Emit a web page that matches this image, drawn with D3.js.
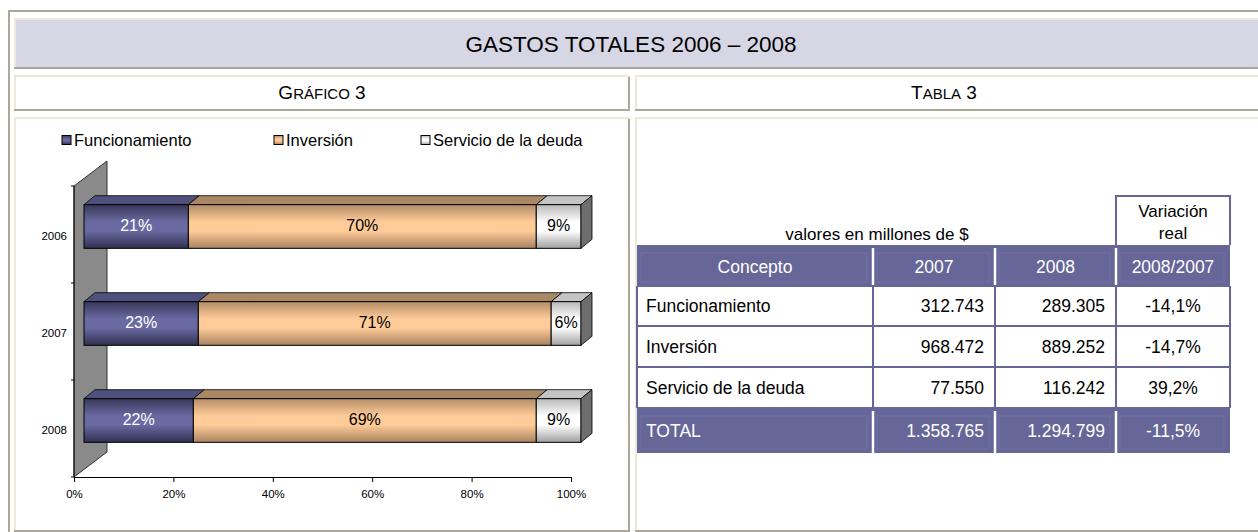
<!DOCTYPE html>
<html>
<head>
<meta charset="utf-8">
<script src="https://cdn.jsdelivr.net/npm/d3@7"></script>
<style>
  body { margin: 0; background: #fff; }
  svg { display: block; font-family: "Liberation Sans", Arial, sans-serif; }
</style>
</head>
<body>
<script>
// datos del grafico (porcentajes del gasto total)
var years = ["2006", "2007", "2008"];
var series = ["Funcionamiento", "Inversión", "Servicio de la deuda"];
var funcionamiento = [21, 23, 22];
var inversion = [70, 71, 69];
var servicio = [9, 6, 9];
var xTicks = [0, 20, 40, 60, 80, 100];

// datos de la tabla (millones de $)
var headers = ["Concepto", "2007", "2008", "2008/2007"];
var conceptos = ["Funcionamiento", "Inversión", "Servicio de la deuda"];
var valores2007 = [312743, 968472, 77550];
var valores2008 = [289305, 889252, 116242];
var variacion = [-14.1, -14.7, 39.2];
var totales = [1358765, 1294799];
var variacionTotal = -11.5;

var W = 1258, H = 532;
var beige = "#ece9d8", gris = "#aca899", morado = "#666699";

var es = d3.formatLocale({decimal: ",", thousands: ".", grouping: [3], currency: ["$", ""], minus: "-"});
var fmtMiles = es.format(",d");
var fmtPct = function(v) { return es.format(".1f")(v) + "%"; };

var svg = d3.select("body").append("svg")
  .attr("width", W)
  .attr("height", H);

var defs = svg.append("defs");
// degradados tipo Excel: oscuro arriba y abajo, claro en el centro
function grad(id, dark, light, dark2) {
  var g = defs.append("linearGradient").attr("id", id)
    .attr("x1", 0).attr("y1", 0).attr("x2", 0).attr("y2", 1);
  g.append("stop").attr("offset", "0%").attr("stop-color", dark);
  g.append("stop").attr("offset", "40%").attr("stop-color", light);
  g.append("stop").attr("offset", "60%").attr("stop-color", light);
  g.append("stop").attr("offset", "100%").attr("stop-color", dark2);
}
grad("g0", "#38385a", "#6a6aa2", "#303050");
grad("g1", "#b48c66", "#ffcc99", "#a88260");
grad("g2", "#b8b8b8", "#ffffff", "#a0a0a0");
var fronts = ["url(#g0)", "url(#g1)", "url(#g2)"];
var tops = ["#50507c", "#a98866", "#c4c4c4"];
var labelColors = ["#ffffff", "#000000", "#000000"];

// ---- marco tipo tabla html ----
function cell(x0, y0, x1, y1, fill) {
  svg.append("rect").attr("x", x0).attr("y", y0).attr("width", x1 - x0).attr("height", y1 - y0).attr("fill", fill);
  svg.append("rect").attr("x", x0).attr("y", y0).attr("width", x1 - x0).attr("height", 2).attr("fill", beige);
  svg.append("rect").attr("x", x0).attr("y", y0).attr("width", 2).attr("height", y1 - y0).attr("fill", beige);
  svg.append("rect").attr("x", x0).attr("y", y1 - 2).attr("width", x1 - x0).attr("height", 2).attr("fill", gris);
  svg.append("rect").attr("x", x1 - 2).attr("y", y0 + 2).attr("width", 2).attr("height", y1 - y0 - 2).attr("fill", gris);
}
svg.append("rect").attr("x", 8).attr("y", 10).attr("width", 2).attr("height", H - 10).attr("fill", gris);
svg.append("rect").attr("x", 8).attr("y", 10).attr("width", W - 8).attr("height", 2).attr("fill", gris);
cell(14, 18, 1264, 69, "#d6d6e4");
cell(14, 75, 630, 111, "#fff");
cell(635, 75, 1264, 111, "#fff");
cell(14, 117, 630, 532, "#fff");
cell(635, 117, 1264, 532, "#fff");

svg.append("text").attr("x", 631).attr("y", 44).attr("dy", "0.35em").attr("text-anchor", "middle")
  .attr("font-size", 22.5).attr("fill", "#000").text("GASTOS TOTALES 2006 – 2008");

function smallCaps(cx, first, rest, last) {
  var t = svg.append("text").attr("x", cx).attr("y", 99).attr("text-anchor", "middle").attr("fill", "#000");
  t.append("tspan").attr("font-size", 19).text(first);
  t.append("tspan").attr("font-size", 15).text(rest);
  t.append("tspan").attr("font-size", 19).text(last);
}
smallCaps(322, "G", "RÁFICO", " 3");
smallCaps(944, "T", "ABLA", " 3");

// ---- grafico de barras 3D apiladas al 100% ----
var x = d3.scaleLinear().domain([0, 100]).range([74, 571]);
var y = d3.scaleBand().domain(years).range([186, 477]).paddingInner(0.55).paddingOuter(0.275);
var wall = {dx: 33, dy: -25};
var off = {dx: 10, dy: -8};
var bd = {dx: 11, dy: -9};

var rows = years.map(function(yr, i) {
  return {year: yr, s0: funcionamiento[i], s1: inversion[i], s2: servicio[i]};
});
var stack = d3.stack().keys(["s0", "s1", "s2"])(rows);

// pared lateral
var y0 = y.range()[0], y1 = y.range()[1];
svg.append("polygon")
  .attr("points", [[x(0), y0], [x(0) + wall.dx, y0 + wall.dy], [x(0) + wall.dx, y1 + wall.dy], [x(0), y1]].join(" "))
  .attr("fill", "#8a8a8a").attr("stroke", "#333").attr("stroke-width", 1);

// eje x
var xAxis = svg.append("g").attr("transform", "translate(0," + y1 + ")")
  .call(d3.axisBottom(x).tickValues(xTicks).tickFormat(function(d) { return d + "%"; }).tickSize(5).tickSizeOuter(0));
xAxis.select(".domain").attr("stroke", "#000");
xAxis.selectAll("text").attr("font-family", null).attr("font-size", 11.5).attr("dy", "1.15em").attr("fill", "#000");

// eje y: marcas en los limites de cada categoria
var bounds = d3.range(years.length + 1).map(function(i) { return y0 + i * y.step(); });
svg.append("line").attr("x1", x(0)).attr("x2", x(0)).attr("y1", y0).attr("y2", y1).attr("stroke", "#000");
svg.selectAll("line.ytick").data(bounds).enter().append("line").attr("class", "ytick")
  .attr("x1", x(0) - 3).attr("x2", x(0)).attr("y1", function(d) { return d; }).attr("y2", function(d) { return d; })
  .attr("stroke", "#000");
svg.selectAll("text.ylab").data(years).enter().append("text").attr("class", "ylab")
  .attr("x", 67).attr("y", function(d) { return y(d) + y.bandwidth() / 2 + 1; })
  .attr("dy", "0.35em").attr("text-anchor", "end").attr("font-size", 11.5).text(function(d) { return d; });

// barras
var bh = y.bandwidth();
stack.forEach(function(layer, si) {
  var g = svg.append("g");
  // cara superior
  g.selectAll("polygon").data(layer).enter().append("polygon")
    .attr("points", function(d) {
      var xa = x(d[0]) + off.dx, xb = x(d[1]) + off.dx, yy = y(d.data.year) + off.dy;
      return [[xa, yy], [xb, yy], [xb + bd.dx, yy + bd.dy], [xa + bd.dx, yy + bd.dy]].join(" ");
    })
    .attr("fill", tops[si]).attr("stroke", "#000").attr("stroke-width", 0.8);
  // cara frontal
  g.selectAll("rect").data(layer).enter().append("rect")
    .attr("x", function(d) { return x(d[0]) + off.dx; })
    .attr("y", function(d) { return y(d.data.year) + off.dy; })
    .attr("width", function(d) { return x(d[1]) - x(d[0]); })
    .attr("height", bh)
    .attr("fill", fronts[si]).attr("stroke", "#000").attr("stroke-width", 1);
  // cara lateral derecha (solo el ultimo segmento)
  if (si === stack.length - 1) {
    g.selectAll("polygon.side").data(layer).enter().append("polygon").attr("class", "side")
      .attr("points", function(d) {
        var xb = x(d[1]) + off.dx, yy = y(d.data.year) + off.dy;
        return [[xb, yy], [xb + bd.dx, yy + bd.dy], [xb + bd.dx, yy + bd.dy + bh], [xb, yy + bh]].join(" ");
      })
      .attr("fill", "#6e6e6e").attr("stroke", "#000").attr("stroke-width", 0.8);
  }
  g.selectAll("text").data(layer).enter().append("text")
    .attr("x", function(d) { return (x(d[0]) + x(d[1])) / 2 + off.dx; })
    .attr("y", function(d) { return y(d.data.year) + off.dy + bh / 2 - 1; })
    .attr("dy", "0.35em").attr("text-anchor", "middle").attr("font-size", 16)
    .attr("fill", labelColors[si])
    .text(function(d) { return (d[1] - d[0]) + "%"; });
});

// leyenda
var legX = [62, 274, 421];
var leg = svg.selectAll("g.leg").data(series).enter().append("g").attr("class", "leg")
  .attr("transform", function(d, i) { return "translate(" + legX[i] + ",140)"; });
leg.append("rect").attr("x", 0).attr("y", -4.5).attr("width", 9).attr("height", 9)
  .attr("fill", function(d, i) { return fronts[i]; }).attr("stroke", "#000");
leg.append("text").attr("x", 12).attr("dy", "0.35em").attr("font-size", 16.5).text(function(d) { return d; });

// ---- tabla ----
var colX = [637, 873, 995, 1116, 1230];
var rowY = [245, 286, 326, 367, 408, 453];
var t = svg.append("g");

t.append("text").attr("x", 877).attr("y", 234).attr("dy", "0.35em").attr("text-anchor", "middle")
  .attr("font-size", 17).text("valores en millones de $");
t.append("path").attr("d", "M" + colX[3] + "," + rowY[0] + "V196H" + colX[4] + "V" + rowY[0])
  .attr("fill", "none").attr("stroke", morado).attr("stroke-width", 2);
t.append("text").attr("x", (colX[3] + colX[4]) / 2).attr("y", 211).attr("dy", "0.35em").attr("text-anchor", "middle")
  .attr("font-size", 17).text("Variación");
t.append("text").attr("x", (colX[3] + colX[4]) / 2).attr("y", 233).attr("dy", "0.35em").attr("text-anchor", "middle")
  .attr("font-size", 17).text("real");

// fondo morado de encabezado y total
[[rowY[0], rowY[1]], [rowY[4], rowY[5]]].forEach(function(r) {
  t.append("rect").attr("x", colX[0]).attr("y", r[0]).attr("width", colX[4] - colX[0]).attr("height", r[1] - r[0]).attr("fill", morado);
  for (var c = 0; c < 4; c++) {
    t.append("rect").attr("x", colX[c] + 4).attr("y", r[0] + 8).attr("width", colX[c + 1] - colX[c] - 10).attr("height", r[1] - r[0] - 12)
      .attr("fill", "none").attr("stroke", "#7070a2").attr("stroke-width", 1);
  }
  colX.slice(1, 4).forEach(function(cx) {
    t.append("line").attr("x1", cx).attr("x2", cx).attr("y1", r[0] + 3).attr("y2", r[1]).attr("stroke", "#fff").attr("stroke-width", 2.5);
  });
});
// rejilla del cuerpo
rowY.slice(1, 5).forEach(function(ry) {
  t.append("line").attr("x1", colX[0]).attr("x2", colX[4]).attr("y1", ry).attr("y2", ry).attr("stroke", morado).attr("stroke-width", 2);
});
colX.forEach(function(cx) {
  t.append("line").attr("x1", cx).attr("x2", cx).attr("y1", rowY[1]).attr("y2", rowY[4]).attr("stroke", morado).attr("stroke-width", 2);
});

function rowText(vals, ry0, ry1, color) {
  var cy = (ry0 + ry1) / 2;
  vals.forEach(function(v, c) {
    var anchor = c === 0 ? "start" : (c === 3 ? "middle" : "end");
    var tx = c === 0 ? colX[0] + 9 : (c === 3 ? (colX[3] + colX[4]) / 2 : colX[c + 1] - 11);
    t.append("text").attr("x", tx).attr("y", cy).attr("dy", "0.35em").attr("text-anchor", anchor)
      .attr("font-size", 17.5).attr("fill", color).text(v);
  });
}
// encabezado centrado
headers.forEach(function(h, c) {
  t.append("text").attr("x", (colX[c] + colX[c + 1]) / 2).attr("y", (rowY[0] + rowY[1]) / 2 + 1).attr("dy", "0.35em")
    .attr("text-anchor", "middle").attr("font-size", 17.5).attr("fill", "#fff").text(h);
});
conceptos.forEach(function(cn, i) {
  rowText([cn, fmtMiles(valores2007[i]), fmtMiles(valores2008[i]), fmtPct(variacion[i])], rowY[i + 1], rowY[i + 2], "#000");
});
rowText(["TOTAL", fmtMiles(totales[0]), fmtMiles(totales[1]), fmtPct(variacionTotal)], rowY[4], rowY[5], "#fff");
</script>
</body>
</html>
